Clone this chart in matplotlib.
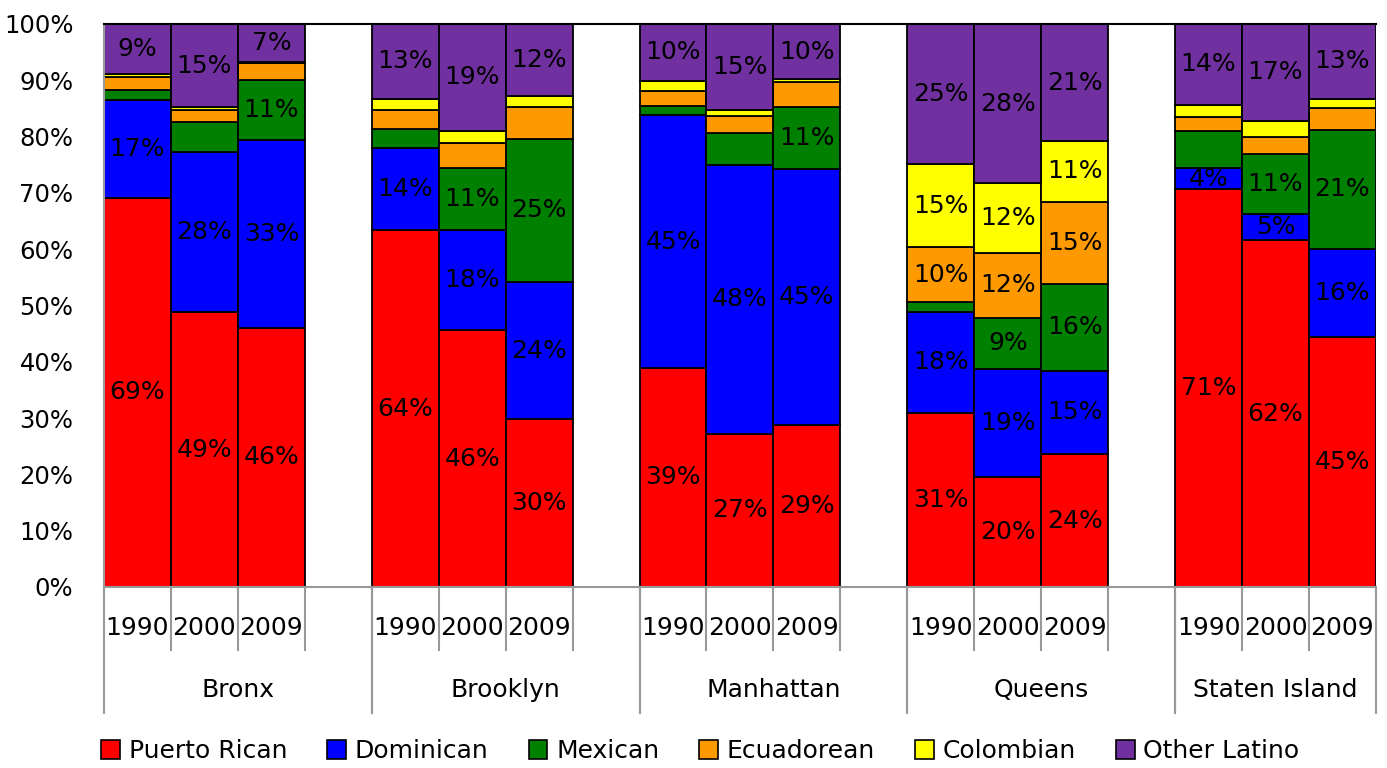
import numpy as np
import matplotlib.pyplot as plt
from matplotlib.lines import Line2D
from matplotlib.patches import Patch

boroughs = ['Bronx', 'Brooklyn', 'Manhattan', 'Queens', 'Staten Island']
years = ['1990', '2000', '2009']

# one value per bar: Bronx 1990/2000/2009, Brooklyn ..., Staten Island
puerto_rican = [69.1, 48.8, 46.0, 63.4, 45.6, 29.8, 38.9, 27.2, 28.8, 30.9, 19.6, 23.6, 70.7, 61.6, 44.4]
dominican = [17.4, 28.5, 33.4, 14.5, 17.8, 24.4, 44.9, 47.8, 45.4, 18.0, 19.2, 14.8, 3.7, 4.6, 15.7]
mexican = [1.7, 5.3, 10.6, 3.5, 11.1, 25.4, 1.6, 5.6, 11.0, 1.8, 8.9, 15.4, 6.6, 10.7, 21.1]
ecuadorean = [2.4, 2.1, 3.0, 3.3, 4.4, 5.7, 2.7, 3.1, 4.5, 9.6, 11.7, 14.6, 2.5, 3.0, 3.8]
colombian = [0.5, 0.5, 0.2, 2.0, 2.1, 1.9, 1.8, 1.0, 0.5, 14.8, 12.3, 10.8, 2.1, 2.9, 1.7]
other_latino = [8.9, 14.8, 6.8, 13.3, 19.0, 12.8, 10.1, 15.3, 9.8, 24.9, 28.3, 20.8, 14.4, 17.2, 13.3]

# data labels shown on the chart ('' = no label)
pr_labels = ['69%', '49%', '46%', '64%', '46%', '30%', '39%', '27%', '29%', '31%', '20%', '24%', '71%', '62%', '45%']
dom_labels = ['17%', '28%', '33%', '14%', '18%', '24%', '45%', '48%', '45%', '18%', '19%', '15%', '4%', '5%', '16%']
mex_labels = ['', '', '11%', '', '11%', '25%', '', '', '11%', '', '9%', '16%', '', '11%', '21%']
ecu_labels = ['', '', '', '', '', '', '', '', '', '10%', '12%', '15%', '', '', '']
col_labels = ['', '', '', '', '', '', '', '', '', '15%', '12%', '11%', '', '', '']
oth_labels = ['9%', '15%', '7%', '13%', '19%', '12%', '10%', '15%', '10%', '25%', '28%', '21%', '14%', '17%', '13%']

series = [
    ('Puerto Rican', puerto_rican, pr_labels, '#FF0000'),
    ('Dominican', dominican, dom_labels, '#0000FF'),
    ('Mexican', mexican, mex_labels, '#008000'),
    ('Ecuadorean', ecuadorean, ecu_labels, '#FF9900'),
    ('Colombian', colombian, col_labels, '#FFFF00'),
    ('Other Latino', other_latino, oth_labels, '#7030A0'),
]

plt.rcParams['font.family'] = 'DejaVu Sans'
FS_BAR = 18
FS_CAT = 18

fig = plt.figure(figsize=(13.87, 7.68), dpi=100)
ax = fig.add_axes([0.075, 0.2357, 0.917, 0.7331])

# slot positions: 3 bars per borough plus one empty slot between boroughs
x = np.array([g * 4 + j for g in range(len(boroughs)) for j in range(len(years))], dtype=float)
bottom = np.zeros(len(x))
for name, vals, labs, col in series:
    vals = np.array(vals)
    ax.bar(x, vals, width=1.0, bottom=bottom, align='edge', color=col,
           edgecolor='black', linewidth=1.3, label=name)
    for xi, b, v, lab in zip(x, bottom, vals, labs):
        if lab:
            ax.text(xi + 0.5, b + v / 2, lab, ha='center', va='center', fontsize=FS_BAR)
    bottom += vals

ax.set_xlim(0, 19)
ax.set_ylim(0, 100)
ax.set_yticks(np.arange(0, 101, 10))
ax.set_yticklabels([f'{v}%' for v in range(0, 101, 10)], fontsize=17.5)
ax.tick_params(axis='y', length=0, pad=22)
ax.set_xticks([])

for s in ['left', 'bottom']:
    ax.spines[s].set_color('#999999')
    ax.spines[s].set_linewidth(1.5)
ax.spines['right'].set_visible(False)
ax.spines['top'].set_color('black')
ax.spines['top'].set_linewidth(1.5)

# multi-level category axis
tr = ax.get_xaxis_transform()
for g, b in enumerate(boroughs):
    start = g * 4
    n_slots = 3 if g == len(boroughs) - 1 else 4
    end = start + n_slots
    for k in range(n_slots + 1):
        xx = start + k
        long_line = k == 0 or k == n_slots
        y1 = -0.224 if long_line else -0.112
        ax.add_line(Line2D([xx, xx], [0, y1], transform=tr, color='#999999',
                           linewidth=1.5, clip_on=False))
    for j, yr in enumerate(years):
        ax.text(start + j + 0.5, -0.073, yr, transform=tr, ha='center', va='center', fontsize=FS_CAT)
    ax.text((start + end) / 2, -0.183, b, transform=tr, ha='center', va='center', fontsize=FS_CAT)

handles = [Patch(facecolor=c, edgecolor='black', linewidth=1.2) for _, _, _, c in series]
fig.legend(handles, [s[0] for s in series], loc='center', bbox_to_anchor=(0.505, 0.022),
           ncol=6, frameon=False, fontsize=FS_CAT, handlelength=0.75, handleheight=0.75,
           handletextpad=0.35, columnspacing=1.6)

fig.savefig('out.png', dpi=100)
